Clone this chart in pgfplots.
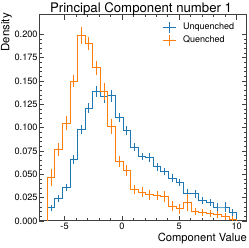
\documentclass[border=0pt]{standalone}
\usepackage{pgfplots}
\pgfplotsset{compat=1.18}
\usepackage{fontspec}
\setmainfont{TeX Gyre Heros}
\definecolor{cblue}{HTML}{1F77B4}
\definecolor{corange}{HTML}{FF7F0E}
\begin{document}
\begin{tikzpicture}
\useasboundingbox (-39.3pt,-27pt) rectangle (209.7pt,221pt);
\begin{axis}[
  at={(0,0)}, anchor=south west,
  scale only axis, width=207.7pt, height=206pt,
  xmin=-7.2, xmax=10.9, ymin=0, ymax=0.2208,
  xtick={-5,0,5,10}, minor x tick num=4,
  ytick={0,0.025,0.05,0.075,0.1,0.125,0.15,0.175,0.2}, minor y tick num=4,
  tick align=inside,
  major tick length=5pt, minor tick length=2.5pt,
  axis line style={black!75, line width=1pt},
  every tick/.style={black!75, line width=0.7pt},
  /pgf/number format/assume math mode=true,
  yticklabel style={/pgf/number format/fixed, /pgf/number format/fixed zerofill, /pgf/number format/precision=3, inner sep=1.5pt},
  scaled y ticks=false,
  ticklabel style={font=\fontsize{9.2}{10}\selectfont},
  xticklabel style={inner sep=2pt},
  title={Principal Component number 1},
  title style={at={(axis description cs:0.49,1)}, anchor=base, yshift=-3.7pt, font=\fontsize{13.2}{15}\selectfont, inner sep=0pt},
  xlabel={Component Value},
  xlabel style={at={(axis description cs:1,-0.058)}, anchor=north east, font=\fontsize{11.2}{13}\selectfont, inner sep=0pt},
  ylabel={Density},
  ylabel style={at={(axis description cs:-0.131,1.01)}, anchor=south east, font=\fontsize{11.5}{13}\selectfont, inner sep=0pt},
  legend style={at={(axis description cs:0.59,0.97)}, anchor=north west, draw=none, fill=none, font=\fontsize{9}{11}\selectfont, row sep=0.5pt, inner sep=0pt,
    /tikz/every odd column/.append style={column sep=5pt}},
  legend cell align=left,
]
% blue (Unquenched) step
\addplot[draw=cblue, line width=1pt, const plot, mark=none, forget plot] coordinates {
(-6.5,0) (-6.5,0.014) (-5.84,0.024) (-5.18,0.036) (-4.52,0.066) (-3.86,0.098)
(-3.2,0.121) (-2.54,0.139) (-1.88,0.133) (-1.22,0.134) (-0.56,0.111)
(0.1,0.097) (0.76,0.079) (1.42,0.069) (2.08,0.068) (2.74,0.058)
(3.4,0.053) (4.06,0.046) (4.72,0.041) (5.38,0.030) (6.04,0.029)
(6.7,0.022) (7.36,0.020) (8.02,0.015) (8.68,0.015) (9.34,0.009)
(10.0,0.009) (10.0,0)};
\addplot[draw=none, mark=none, forget plot,
  error bars/.cd, y dir=both, y explicit, error mark=none,
  error bar style={draw=cblue, line width=1pt}]
  table[x=x, y=y, y error=e] {
x y e
-6.17 0.014 0.0035
-5.51 0.024 0.004
-4.85 0.036 0.004
-4.19 0.066 0.0045
-3.53 0.098 0.0045
-2.87 0.121 0.005
-2.21 0.139 0.006
-1.55 0.133 0.006
-0.89 0.134 0.006
-0.23 0.111 0.005
0.43 0.097 0.005
1.09 0.079 0.0045
1.75 0.069 0.004
2.41 0.068 0.0045
3.07 0.058 0.004
3.73 0.053 0.004
4.39 0.046 0.004
5.05 0.041 0.004
5.71 0.030 0.004
6.37 0.029 0.004
7.03 0.022 0.004
7.69 0.020 0.004
8.35 0.015 0.004
9.01 0.015 0.005
9.67 0.009 0.004
};
% orange (Quenched) step
\addplot[draw=corange, line width=1pt, const plot, mark=none, forget plot] coordinates {
(-6.5,0) (-6.5,0.047) (-5.84,0.077) (-5.18,0.105) (-4.52,0.150) (-3.86,0.199)
(-3.2,0.190) (-2.54,0.164) (-1.88,0.139) (-1.22,0.101) (-0.56,0.064)
(0.1,0.054) (0.76,0.034) (1.42,0.031) (2.08,0.028) (2.74,0.027)
(3.4,0.026) (4.06,0.016) (4.72,0.013) (5.38,0.020) (6.04,0.010)
(6.7,0.009) (7.36,0.008) (8.02,0.007) (8.68,0.005) (9.34,0.002)
(10.0,0.002) (10.0,0)};
\addplot[draw=none, mark=none, forget plot,
  error bars/.cd, y dir=both, y explicit, error mark=none,
  error bar style={draw=corange, line width=1pt}]
  table[x=x, y=y, y error=e] {
x y e
-6.17 0.047 0.009
-5.51 0.077 0.007
-4.85 0.105 0.008
-4.19 0.150 0.006
-3.53 0.199 0.009
-2.87 0.190 0.007
-2.21 0.164 0.007
-1.55 0.139 0.009
-0.89 0.101 0.008
-0.23 0.064 0.006
0.43 0.054 0.006
1.09 0.034 0.005
1.75 0.031 0.005
2.41 0.028 0.005
3.07 0.027 0.005
3.73 0.026 0.006
4.39 0.016 0.005
5.05 0.013 0.005
5.71 0.020 0.009
6.37 0.010 0.004
7.03 0.009 0.004
7.69 0.008 0.004
8.35 0.007 0.004
9.01 0.005 0.004
9.67 0.002 0.003
};
\addlegendimage{legend image code/.code={\draw[draw=cblue,line width=1pt](0pt,0pt)--(13pt,0pt);\draw[draw=cblue,line width=1pt](6.5pt,-5.5pt)--(6.5pt,5.5pt);}}
\addlegendentry{Unquenched}
\addlegendimage{legend image code/.code={\draw[draw=corange,line width=1pt](0pt,0pt)--(13pt,0pt);\draw[draw=corange,line width=1pt](6.5pt,-5.5pt)--(6.5pt,5.5pt);}}
\addlegendentry{Quenched}
\end{axis}
\end{tikzpicture}
\end{document}
